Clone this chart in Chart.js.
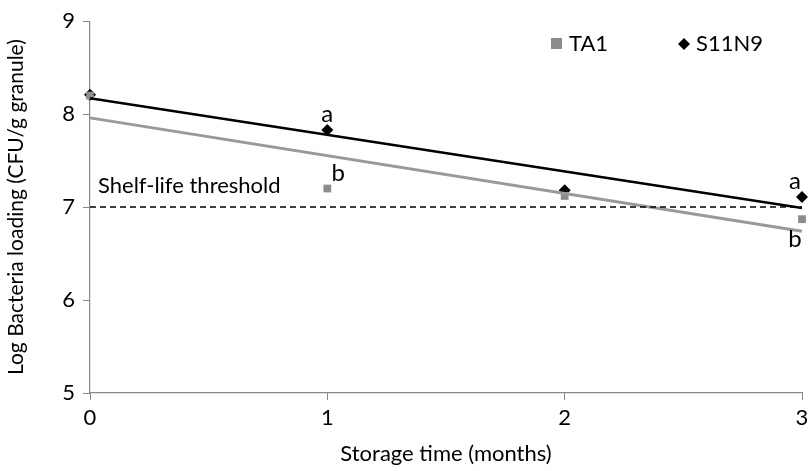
<!DOCTYPE html>
<html>
<head>
<meta charset="utf-8">
<script src="https://cdn.jsdelivr.net/npm/chart.js@4"></script>
<style>
  html, body { margin: 0; padding: 0; background: #fff; }
  #wrap { width: 808px; height: 471px; }
</style>
</head>
<body>
<div id="wrap"><canvas id="bacteriaChart" width="808" height="471"></canvas></div>
<script>
// Storage data (months vs log CFU/g)
const months = [0, 1, 2, 3];
const ta1Values = [8.20, 7.20, 7.12, 6.87];
const s11n9Values = [8.21, 7.83, 7.18, 7.11];

// Linear trend lines (start / end)
const trendMonths = [0, 3];
const ta1Trend = [7.96, 6.74];
const s11n9Trend = [8.17, 6.99];

const thresholdValue = 7;
const thresholdLabel = 'Shelf-life threshold';

// Significance letters
const letterLabels = [
    { x: 1, y: 7.83, text: 'a', dx: 0, dy: -16 },
    { x: 1, y: 7.20, text: 'b', dx: 11, dy: -15 },
    { x: 3, y: 7.11, text: 'a', dx: -7, dy: -16 },
    { x: 3, y: 6.87, text: 'b', dx: -7, dy: 20 }
];

const FONT = 'Lato, "Open Sans", sans-serif';
const grayColor = '#8c8c8c';

function toPoints(xs, ys) {
    return xs.map((x, i) => ({ x: x, y: ys[i] }));
}

// draws threshold text, letters and the legend
const annotationPlugin = {
    id: 'annotations',
    afterDatasetsDraw(chart) {
        const ctx = chart.ctx;
        const xs = chart.scales.x;
        const ys = chart.scales.y;
        ctx.save();
        ctx.fillStyle = '#000';

        ctx.font = '22px ' + FONT;
        ctx.textAlign = 'left';
        ctx.textBaseline = 'alphabetic';
        ctx.fillText(thresholdLabel, xs.getPixelForValue(0) + 8, ys.getPixelForValue(thresholdValue) - 14);

        ctx.font = '24px ' + FONT;
        ctx.textAlign = 'center';
        ctx.textBaseline = 'middle';
        letterLabels.forEach(l => {
            ctx.fillText(l.text, xs.getPixelForValue(l.x) + l.dx, ys.getPixelForValue(l.y) + l.dy);
        });

        // legend
        const area = chart.chartArea;
        const ly = 44;
        ctx.font = '22px ' + FONT;
        ctx.textAlign = 'left';
        ctx.fillStyle = grayColor;
        ctx.fillRect(area.right - 251, ly - 6, 11, 11);
        ctx.fillStyle = '#000';
        ctx.fillText('TA1', area.right - 233, ly);
        ctx.beginPath();
        ctx.moveTo(area.right - 118, ly - 6);
        ctx.lineTo(area.right - 112, ly);
        ctx.lineTo(area.right - 118, ly + 6);
        ctx.lineTo(area.right - 124, ly);
        ctx.closePath();
        ctx.fill();
        ctx.fillText('S11N9', area.right - 106, ly);
        ctx.restore();
    }
};

const ctx = document.getElementById('bacteriaChart').getContext('2d');
new Chart(ctx, {
    type: 'scatter',
    data: {
        datasets: [
            {
                label: 'threshold',
                type: 'line',
                data: toPoints(trendMonths, [thresholdValue, thresholdValue]),
                borderColor: '#000',
                borderWidth: 1.5,
                borderDash: [6, 4],
                pointRadius: 0,
                fill: false
            },
            {
                label: 'TA1 trend',
                type: 'line',
                data: toPoints(trendMonths, ta1Trend),
                borderColor: '#999999',
                borderWidth: 3,
                pointRadius: 0,
                fill: false
            },
            {
                label: 'S11N9 trend',
                type: 'line',
                data: toPoints(trendMonths, s11n9Trend),
                borderColor: '#000',
                borderWidth: 2.5,
                pointRadius: 0,
                fill: false
            },
            {
                label: 'TA1',
                data: toPoints(months, ta1Values),
                pointStyle: 'rect',
                pointRadius: 5.5,
                backgroundColor: grayColor,
                borderColor: grayColor,
                borderWidth: 0
            },
            {
                label: 'S11N9',
                data: toPoints(months, s11n9Values),
                pointStyle: 'rectRot',
                pointRadius: 6,
                backgroundColor: '#000',
                borderColor: '#000',
                borderWidth: 0
            }
        ]
    },
    options: {
        responsive: false,
        animation: false,
        clip: false,
        layout: { padding: { top: 19, right: 5, left: 0, bottom: 0 } },
        plugins: {
            legend: { display: false },
            tooltip: { enabled: false }
        },
        scales: {
            x: {
                type: 'linear',
                min: 0,
                max: 3,
                afterFit: s => { s.height = 78; s.paddingRight = 0; s.paddingLeft = 0; },
                border: { color: '#888', width: 1.2 },
                grid: { drawOnChartArea: false, tickLength: 7, color: '#888' },
                ticks: {
                    stepSize: 1,
                    padding: 5,
                    color: '#000',
                    font: { family: FONT, size: 22 }
                },
                title: {
                    display: true,
                    text: 'Storage time (months)',
                    color: '#000',
                    padding: { top: 4 },
                    font: { family: FONT, size: 22 }
                }
            },
            y: {
                min: 5,
                max: 9,
                afterFit: s => { s.width = 90; },
                border: { color: '#888', width: 1.2 },
                grid: { drawOnChartArea: false, tickLength: 7, color: '#888' },
                ticks: {
                    stepSize: 1,
                    padding: 8,
                    color: '#000',
                    font: { family: FONT, size: 22 }
                },
                title: {
                    display: true,
                    text: 'Log Bacteria loading (CFU/g granule)',
                    color: '#000',
                    padding: { bottom: 10 },
                    font: { family: FONT, size: 21 }
                }
            }
        }
    },
    plugins: [annotationPlugin]
});
</script>
</body>
</html>
